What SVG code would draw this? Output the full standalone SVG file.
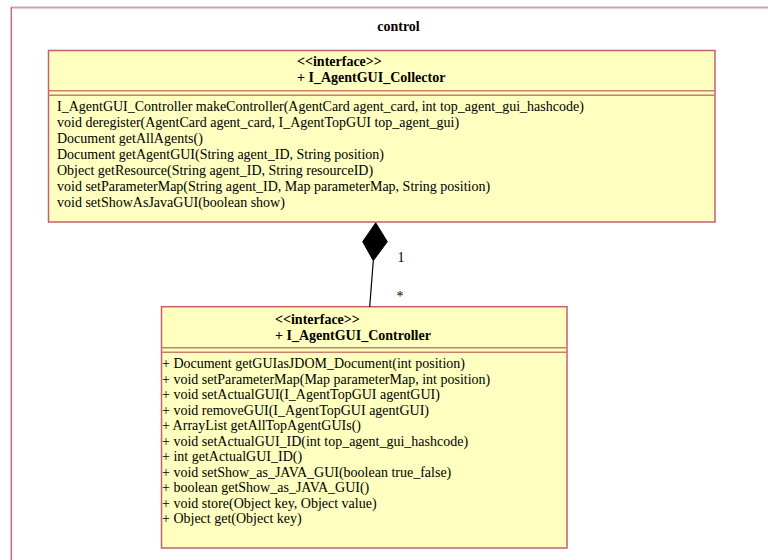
<svg xmlns="http://www.w3.org/2000/svg" width="768" height="560" viewBox="0 0 768 560">
  <style>
    .frame-top { stroke: #d6a2a8; stroke-width: 2; fill: none; }
    .frame-left { stroke: #c0707c; stroke-width: 1.5; fill: none; }
    .cls { fill: #ffffc0; stroke: #c4606c; stroke-width: 1.5; }
    .sep { stroke: #c8806e; stroke-width: 1.5; }
    .title { font-family: "Liberation Serif", "Times New Roman", serif; font-size: 14px; font-weight: bold; fill: #000; }
    .head { font-family: "Liberation Serif", "Times New Roman", serif; font-size: 14px; font-weight: bold; fill: #000; }
    .op { font-family: "Liberation Serif", "Times New Roman", serif; font-size: 14px; fill: #000; }
    .mult { font-family: "Liberation Serif", "Times New Roman", serif; font-size: 14px; fill: #000; }
    .edge { stroke: #000; stroke-width: 1.2; fill: none; }
  </style>

  <rect x="0" y="0" width="768" height="560" fill="#ffffff"/>

  <!-- package frame "control" -->
  <g id="package-control">
    <line class="frame-top" x1="11" y1="7.5" x2="768" y2="7.5"/>
    <line class="frame-left" x1="11.3" y1="7" x2="11.3" y2="560"/>
    <text class="title" x="398.5" y="31" text-anchor="middle">control</text>
  </g>

  <!-- interface I_AgentGUI_Collector -->
  <g id="I_AgentGUI_Collector">
    <rect class="cls" x="48.5" y="50.5" width="666.5" height="171.5"/>
    <line class="sep" x1="48.5" y1="90.7" x2="715" y2="90.7"/>
    <line class="sep" x1="48.5" y1="95.3" x2="715" y2="95.3"/>
    <text class="head" x="297" y="66">&lt;&lt;interface&gt;&gt;</text>
    <text class="head" x="297" y="82">+ I_AgentGUI_Collector</text>
    <text class="op" x="57" y="111">I_AgentGUI_Controller makeController(AgentCard agent_card, int top_agent_gui_hashcode)</text>
    <text class="op" x="57" y="127">void deregister(AgentCard agent_card, I_AgentTopGUI top_agent_gui)</text>
    <text class="op" x="57" y="143">Document getAllAgents()</text>
    <text class="op" x="57" y="159">Document getAgentGUI(String agent_ID, String position)</text>
    <text class="op" x="57" y="175">Object getResource(String agent_ID, String resourceID)</text>
    <text class="op" x="57" y="191">void setParameterMap(String agent_ID, Map parameterMap, String position)</text>
    <text class="op" x="57" y="207">void setShowAsJavaGUI(boolean show)</text>
  </g>

  <!-- interface I_AgentGUI_Controller -->
  <g id="I_AgentGUI_Controller">
    <rect class="cls" x="161.5" y="306.7" width="405.5" height="241.3"/>
    <line class="sep" x1="161.5" y1="347.7" x2="567" y2="347.7"/>
    <line class="sep" x1="161.5" y1="352.3" x2="567" y2="352.3"/>
    <text class="head" x="275" y="324">&lt;&lt;interface&gt;&gt;</text>
    <text class="head" x="275" y="340">+ I_AgentGUI_Controller</text>
    <text class="op" x="162" y="368">+ Document getGUIasJDOM_Document(int position)</text>
    <text class="op" x="162" y="383.5">+ void setParameterMap(Map parameterMap, int position)</text>
    <text class="op" x="162" y="399">+ void setActualGUI(I_AgentTopGUI agentGUI)</text>
    <text class="op" x="162" y="414.5">+ void removeGUI(I_AgentTopGUI agentGUI)</text>
    <text class="op" x="162" y="430">+ ArrayList getAllTopAgentGUIs()</text>
    <text class="op" x="162" y="445.5">+ void setActualGUI_ID(int top_agent_gui_hashcode)</text>
    <text class="op" x="162" y="461">+ int getActualGUI_ID()</text>
    <text class="op" x="162" y="476.5">+ void setShow_as_JAVA_GUI(boolean true_false)</text>
    <text class="op" x="162" y="492">+ boolean getShow_as_JAVA_GUI()</text>
    <text class="op" x="162" y="507.5">+ void store(Object key, Object value)</text>
    <text class="op" x="162" y="523">+ Object get(Object key)</text>
  </g>

  <!-- composition: Collector (whole) 1 to * Controller (part) -->
  <g id="connectors">
    <line class="edge" x1="373.3" y1="260.7" x2="369.7" y2="306.7"/>
    <polygon points="375.7,222.8 387.3,241.7 373.3,260.7 362.7,241.7" fill="#000" stroke="#000" stroke-width="1"/>
    <text class="mult" x="397.5" y="262">1</text>
    <text class="mult" x="396.5" y="301">*</text>
  </g>
</svg>
